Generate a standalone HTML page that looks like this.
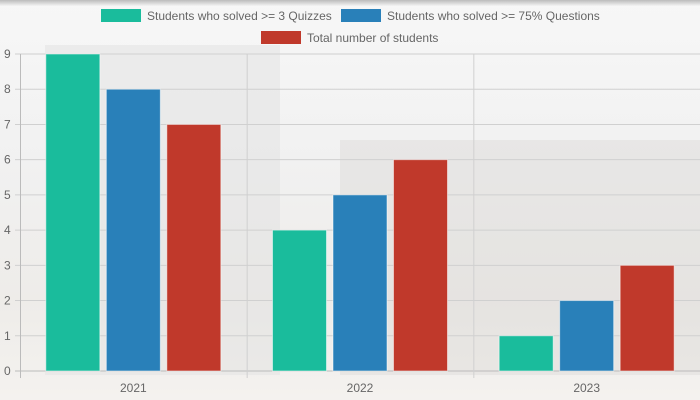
<!DOCTYPE html>
<html><head><meta charset="utf-8"><style>
html,body{margin:0;padding:0;width:700px;height:400px;overflow:hidden;font-family:"Liberation Sans",sans-serif}
#bg{position:absolute;left:0;top:0;width:700px;height:400px;background:linear-gradient(180deg,#f7f7f7 0%,#f1f1f1 40%,#eeece9 75%,#f4f2ef 100%)}
#top{position:absolute;left:0;top:0;width:700px;height:6px;background:linear-gradient(180deg,#bbb,#f4f4f4)}
.bld{position:absolute}
svg{position:absolute;left:0;top:0}
</style></head><body>
<div id="bg"></div>
<div class="bld" style="left:45px;top:45px;width:235px;height:330px;background:rgba(225,225,225,0.5)"></div>
<div class="bld" style="left:340px;top:140px;width:360px;height:235px;background:rgba(220,218,215,0.45)"></div>
<div id="top"></div>
<svg id="chart" width="700" height="400"></svg>
<script>
const categories=["2021","2022","2023"];
const seriesNames=["Students who solved >= 3 Quizzes","Students who solved >= 75% Questions","Total number of students"];
const seriesColors=["#1abc9c","#2980b9","#c0392b"];
const quizzes=[9,4,1];
const questions=[8,5,2];
const totals=[7,6,3];
const yTicks=[0,1,2,3,4,5,6,7,8,9];
const series=[quizzes,questions,totals];
const NS="http://www.w3.org/2000/svg";
const svg=document.getElementById('chart');
const L=20,R=700,T=54,B=371,yMax=9;
const y=v=>B-(v/yMax)*(B-T);
const catW=(R-L)/categories.length;
const x=i=>L+catW*i;
function mk(tag,attrs,parent){const e=document.createElementNS(NS,tag);for(const k in attrs)e.setAttribute(k,attrs[k]);(parent||svg).appendChild(e);return e;}
yTicks.forEach(t=>{
 const g=mk('line',{x1:L-5,x2:R,y1:y(t),y2:y(t),stroke:t===0?'#bbb':'#d0d0d0','stroke-width':1});
 
 
 const tx=mk('text',{x:4,y:y(t)+4,'font-size':12,fill:'#666'});tx.textContent=t;
 
 
});
for(let i=0;i<=categories.length;i++){
 const g=mk('line',{x1:x(i)+0.5,x2:x(i)+0.5,y1:T,y2:B+7,stroke:i===0?'#bbb':'#d0d0d0','stroke-width':1});
 
 
}
const bw=54,step=60.5;
categories.forEach((c,i)=>{
 const cx=x(i)+catW/2;
 series.forEach((s,j)=>{
  const bx=cx+(j-1)*step-bw/2;
  const r=mk('rect',{x:bx,y:y(s[i]),width:bw,height:B-y(s[i]),fill:seriesColors[j],stroke:'rgba(255,255,255,0.5)','stroke-width':1});
  
  
 });
 const t=mk('text',{x:cx,y:392,'font-size':12,fill:'#666','text-anchor':'middle'});t.textContent=c;
 
 
});
const legendPos=[[101,15],[341,15],[261,37]];
seriesNames.forEach((n,j)=>{
 const [lx,ly]=legendPos[j];
 const r=mk('rect',{x:lx,y:ly-6,width:40,height:13,fill:seriesColors[j]});
 
 
 const t=mk('text',{x:lx+46,y:ly+5,'font-size':12,fill:'#666'});t.textContent=n;
 
 
});
</script>
</body></html>
